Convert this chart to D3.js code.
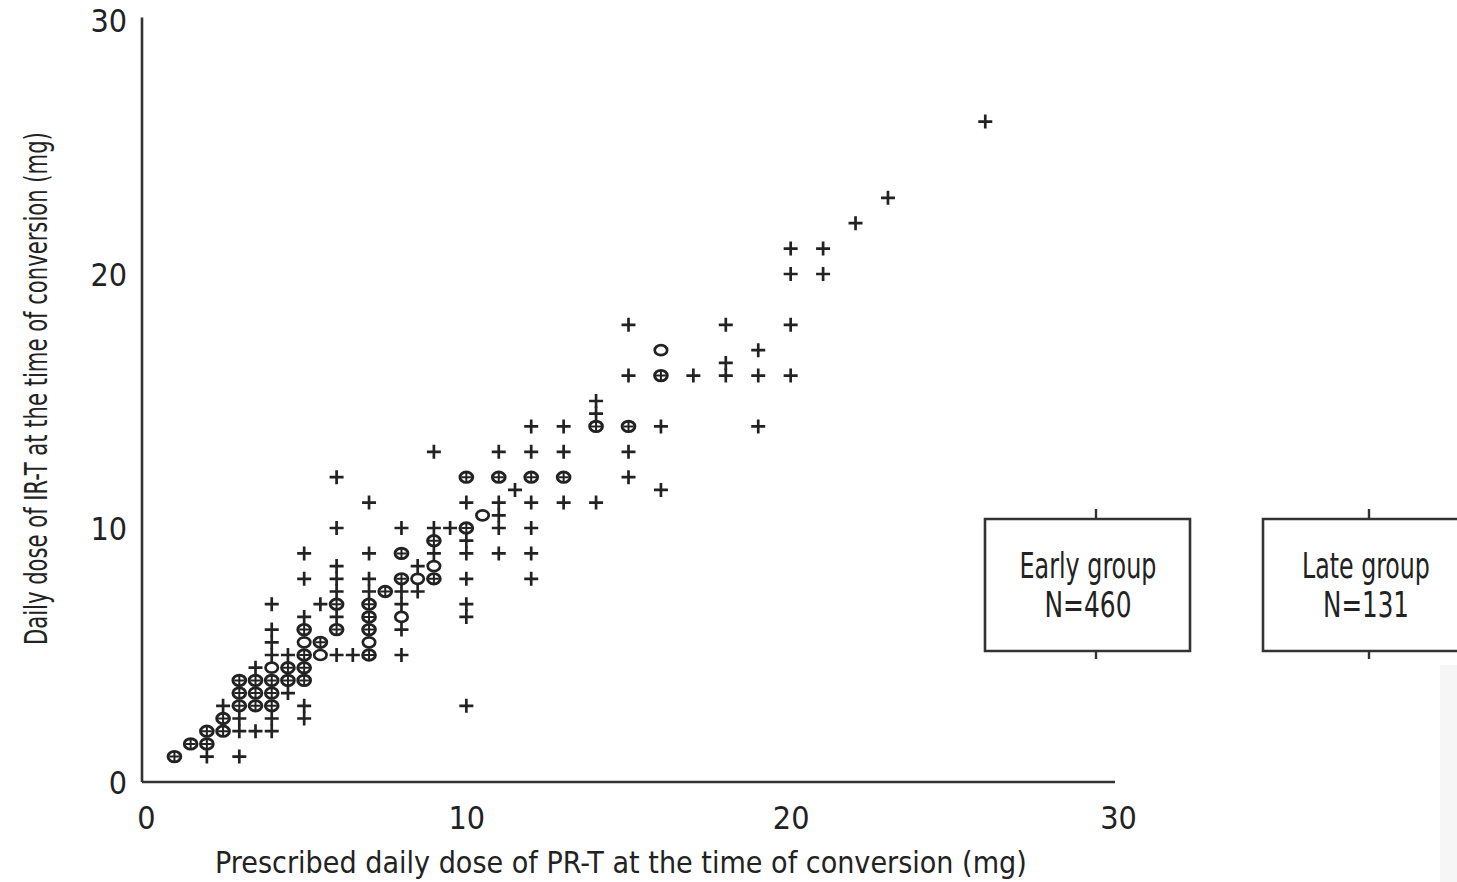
<!DOCTYPE html>
<html>
<head>
<meta charset="utf-8">
<script src="https://cdn.jsdelivr.net/npm/d3@7/dist/d3.min.js"></script>
<style>
  html, body { margin: 0; padding: 0; background: #fff; }
  svg { display: block; }
  text { font-family: "Liberation Sans Narrow", "DejaVu Sans Condensed", "Roboto", sans-serif; fill: #222; }
</style>
</head>
<body>
<svg id="chart" width="1457" height="882"></svg>
<script>
// ---- Data (x = PR-T dose, y = IR-T dose, mg) ----
const xTicks = [0, 10, 20, 30];
const yTicks = [0, 10, 20, 30];
const xLabel = "Prescribed daily dose of PR-T at the time of conversion (mg)";
const yLabel = "Daily dose of IR-T at the time of conversion (mg)";
const groupNames = ["Early group", "Late group"];
const groupCounts = ["N=460", "N=131"];

// "+" markers
const crossPoints = [
  [2,1],[3,1],
  [3,2],[3.5,2],[4,2],
  [3,2.5],[4,2.5],[5,2.5],
  [2.5,3],[5,3],
  [4.5,3.5],
  [3.5,4.5],
  [4,5],[4.5,5],[6,5],[6.5,5],[8,5],
  [4,5.5],
  [4,6],[8,6],
  [5,6.5],[6,6.5],
  [4,7],[5.5,7],[8,7],[10,7],
  [6,7.5],[7,7.5],[8,7.5],[8.5,7.5],
  [5,8],[6,8],[7,8],[10,8],[12,8],
  [6,8.5],[8.5,8.5],
  [5,9],[7,9],[9,9],[10,9],[11,9],[12,9],
  [10,9.5],
  [6,10],[8,10],[9,10],[9.5,10],[11,10],[12,10],
  [11,10.5],
  [7,11],[10,11],[11,11],[12,11],[13,11],[14,11],
  [11.5,11.5],[16,11.5],
  [6,12],[15,12],
  [9,13],[11,13],[12,13],[13,13],[15,13],
  [12,14],[13,14],[16,14],[19,14],
  [14,14.5],[14,15],
  [15,16],[17,16],[18,16],[19,16],[20,16],
  [18,16.5],[19,17],
  [15,18],[18,18],[20,18],
  [20,20],[21,20],[20,21],[21,21],
  [22,22],[23,23],[26,26],
  [10,3],[10,6.5]
];
// "o" markers
const circlePoints = [
  [4,4.5],[5.5,5],[5,5.5],[7,5.5],[8,6.5],[8.5,8],[9,8.5],[10.5,10.5],[16,17]
];
// overlapping "⊕" markers
const overlapPoints = [
  [1,1],[1.5,1.5],[2,1.5],[2,2],[2.5,2],[2.5,2.5],
  [3,3],[3.5,3],[4,3],
  [3,3.5],[3.5,3.5],[4,3.5],
  [3,4],[3.5,4],[4,4],[4.5,4],[5,4],
  [4.5,4.5],[5,4.5],
  [5,5],[7,5],
  [5.5,5.5],
  [5,6],[6,6],[7,6],
  [7,6.5],
  [6,7],[7,7],
  [7.5,7.5],
  [8,8],[9,8],
  [8,9],[9,9.5],
  [10,10],
  [10,12],[11,12],[12,12],[13,12],
  [14,14],[15,14],
  [16,16]
];

// ---- Layout ----
const svg = d3.select("#chart");
const x = d3.scaleLinear().domain([0, 30]).range([142, 1115]);
const y = d3.scaleLinear().domain([0, 30]).range([782, 20]);
const ink = "#222";

// place text with its left end at (tx,ty), squeezed horizontally to a target width
function fitText(g, str, tx, ty, width, size, rotate) {
  const t = g.append("text").attr("x", 0).attr("y", 0).attr("font-size", size).text(str);
  const L = t.node().getComputedTextLength();
  const s = width / L;
  t.attr("transform", `translate(${tx},${ty})${rotate ? " rotate(" + rotate + ")" : ""} scale(${s},1)`);
  return t;
}

// faint strip at the right edge
svg.append("rect").attr("x", 1440).attr("y", 665).attr("width", 17).attr("height", 217).attr("fill", "#f6f6f6");

// Axes
const xAxis = d3.axisBottom(x).tickValues(xTicks).tickSize(0).tickPadding(0).tickFormat(d3.format("d"));
const yAxis = d3.axisLeft(y).tickValues(yTicks).tickSize(0).tickPadding(0).tickFormat(d3.format("d"));

const gx = svg.append("g").attr("transform", `translate(0,${y(0)})`).call(xAxis);
gx.select(".domain").attr("stroke", "#333").attr("stroke-width", 2.6).attr("d", `M${x(0)},0H${x(30)}`);
gx.selectAll(".tick text")
  .attr("dy", 0).attr("y", 47).attr("font-size", 32).attr("fill", ink)
  .style("font-family", "'Liberation Sans Narrow','DejaVu Sans Condensed',sans-serif")
  .attr("dx", d => d === 0 ? 4 : (d === 30 ? 3 : 0));

const gy = svg.append("g").attr("transform", `translate(${x(0)},0)`).call(yAxis);
gy.select(".domain").attr("stroke", "#333").attr("stroke-width", 2.6).attr("d", `M0,${y(30.1)}V${y(0)}`);
gy.selectAll(".tick text")
  .attr("x", -15).attr("dy", "0.36em").attr("font-size", 32).attr("fill", ink)
  .style("font-family", "'Liberation Sans Narrow','DejaVu Sans Condensed',sans-serif");

// Axis titles
fitText(svg, xLabel, 215, 873, 812, 31, 0);
fitText(svg, yLabel, 47, 645, 513, 32, -90);

// Markers
const plot = svg.append("g");
const crossSize = 7;

function drawCross(g, pts) {
  g.selectAll(null).data(pts).join("path")
    .attr("d", d => `M${x(d[0]) - crossSize},${y(d[1])}H${x(d[0]) + crossSize}M${x(d[0])},${y(d[1]) - crossSize}V${y(d[1]) + crossSize}`)
    .attr("stroke", ink).attr("stroke-width", 2.7).attr("fill", "none");
}
function drawCircle(g, pts) {
  g.selectAll(null).data(pts).join("ellipse")
    .attr("cx", d => x(d[0])).attr("cy", d => y(d[1]))
    .attr("rx", 6.2).attr("ry", 5.0)
    .attr("stroke", ink).attr("stroke-width", 2.7).attr("fill", "none");
}
function drawOverlap(g, pts) {
  g.selectAll(null).data(pts).join("ellipse")
    .attr("cx", d => x(d[0])).attr("cy", d => y(d[1]))
    .attr("rx", 6.4).attr("ry", 5.2)
    .attr("stroke", ink).attr("stroke-width", 2.9).attr("fill", "none");
  g.selectAll(null).data(pts).join("path")
    .attr("d", d => `M${x(d[0]) - 5},${y(d[1])}H${x(d[0]) + 5}M${x(d[0])},${y(d[1]) - 4.5}V${y(d[1]) + 4.5}`)
    .attr("stroke", ink).attr("stroke-width", 2).attr("fill", "none");
}
drawCross(plot.append("g"), crossPoints);
drawCircle(plot.append("g"), circlePoints);
drawOverlap(plot.append("g"), overlapPoints);

// Group boxes (the second one runs off the right edge, as in the original)
const boxes = [
  { name: groupNames[0], n: groupCounts[0], x0: 985, x1: 1190, cx: 1096, tx: 1088, w1: 137, w2: 87, closed: true },
  { name: groupNames[1], n: groupCounts[1], x0: 1263, x1: 1457, cx: 1369, tx: 1366, w1: 128, w2: 86, closed: false }
];
const boxTop = 519, boxBottom = 651;
boxes.forEach(b => {
  const g = svg.append("g");
  const d = b.closed
    ? `M${b.x0},${boxTop}H${b.x1}V${boxBottom}H${b.x0}Z`
    : `M${b.x1},${boxTop}H${b.x0}V${boxBottom}H${b.x1}`;
  g.append("path").attr("d", d).attr("fill", "none").attr("stroke", "#333").attr("stroke-width", 2.6);
  g.append("line").attr("x1", b.cx).attr("x2", b.cx).attr("y1", boxTop - 10).attr("y2", boxTop).attr("stroke", "#333").attr("stroke-width", 2.4);
  g.append("line").attr("x1", b.cx).attr("x2", b.cx).attr("y1", boxBottom).attr("y2", boxBottom + 8).attr("stroke", "#333").attr("stroke-width", 2.4);
  fitText(g, b.name, b.tx - b.w1 / 2, 578, b.w1, 35, 0);
  fitText(g, b.n, b.tx - b.w2 / 2, 617, b.w2, 35, 0);
});
</script>
</body>
</html>
